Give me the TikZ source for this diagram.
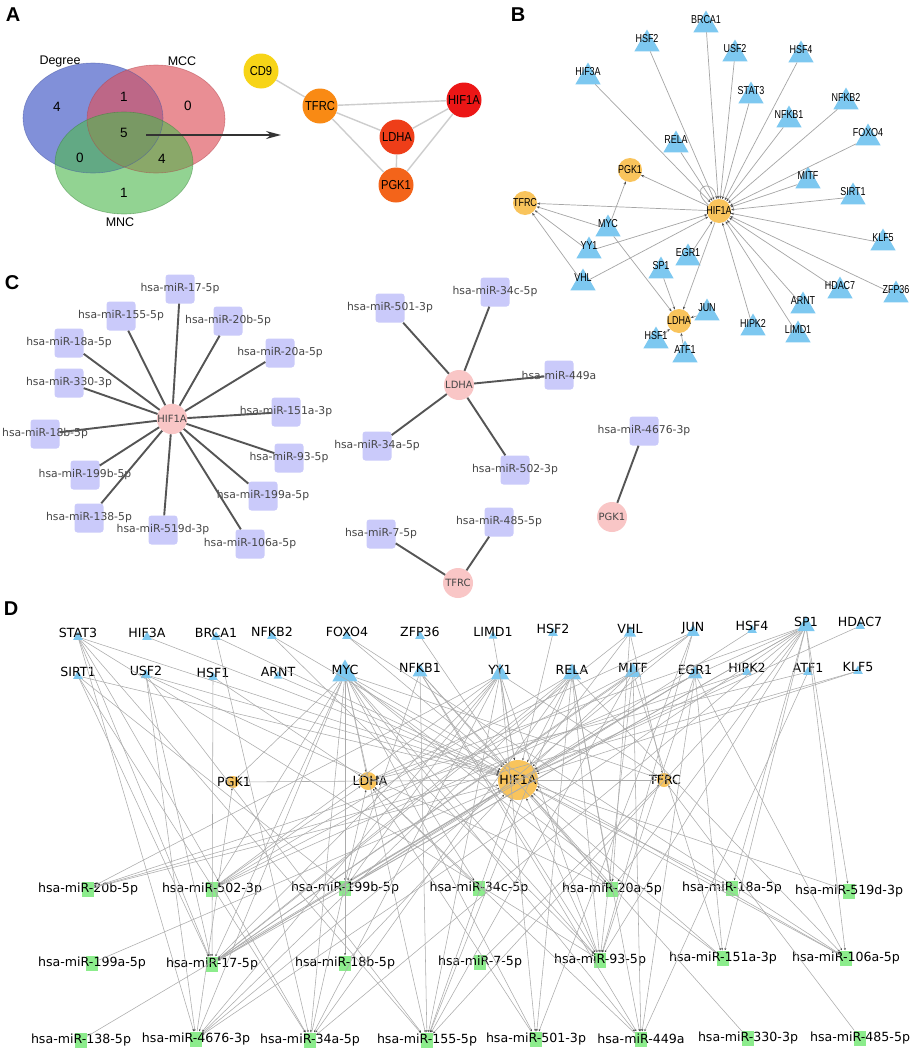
\documentclass[tikz,border=0pt]{standalone}
\usepackage{fontspec}
\setmainfont{Liberation Sans}
\newfontfamily\dv{DejaVu Sans}
\newfontfamily\cond[FakeStretch=0.78]{Liberation Sans}
\newfontfamily\acond[FakeStretch=0.86]{Liberation Sans}
\usetikzlibrary{shapes.geometric,arrows.meta}
\definecolor{vblue}{RGB}{88,108,205}
\definecolor{vred}{RGB}{222,82,92}
\definecolor{vgreen}{RGB}{80,185,80}
\definecolor{cdyel}{RGB}{247,212,23}
\definecolor{tforange}{RGB}{249,138,20}
\definecolor{ldred}{RGB}{238,62,25}
\definecolor{pgorange}{RGB}{243,100,26}
\definecolor{hifred}{RGB}{236,22,22}
\definecolor{aline}{RGB}{205,205,205}
\definecolor{bgold}{RGB}{249,196,92}
\definecolor{tfblue}{RGB}{125,200,240}
\definecolor{bline}{RGB}{165,165,165}
\definecolor{cpink}{RGB}{249,198,198}
\definecolor{clav}{RGB}{202,202,250}
\definecolor{ctext}{RGB}{70,70,70}
\definecolor{cline}{RGB}{85,85,85}
\definecolor{mgreen}{RGB}{140,236,140}
\definecolor{dline}{RGB}{172,172,172}
\begin{document}
\begin{tikzpicture}[x=1pt,y=-1pt,
  plet/.style={font=\bfseries\fontsize{20}{20}\selectfont, inner sep=0},
  vlab/.style={font=\fontsize{12.5}{13}\selectfont, inner sep=0},
  vnum/.style={font=\fontsize{13.5}{14}\selectfont, inner sep=0},
  anode/.style={circle, inner sep=0, minimum size=35pt, font=\acond\fontsize{13}{13}\selectfont},
  aedge/.style={draw=aline, line width=1.4pt},
  bgene/.style={circle, fill=bgold, inner sep=0, minimum size=24pt},
  btri/.style={regular polygon, regular polygon sides=3, fill=tfblue, inner sep=0, minimum size=29pt},
  btxt/.style={font=\cond\fontsize{11.5}{12}\selectfont, inner sep=0},
  bedge/.style={draw=bline, line width=0.7pt, -{Stealth[length=3pt,width=2.4pt,color=black!70]}},
  cgene/.style={circle, fill=cpink, inner sep=0, minimum size=30pt, font=\dv\fontsize{10}{10}\selectfont, text=ctext},
  cmir/.style={rectangle, rounded corners=3pt, fill=clav, minimum size=29pt, inner sep=0},
  ctxt/.style={font=\dv\fontsize{10.8}{11}\selectfont, text=ctext, inner sep=0},
  cedge/.style={draw=cline, line width=1.9pt},
  dtri/.style={regular polygon, regular polygon sides=3, fill=tfblue, inner sep=0, minimum size=#1},
  dtri/.default=11pt,
  dgene/.style={circle, fill=bgold, inner sep=0, minimum size=#1},
  dmir/.style={rectangle, fill=mgreen, inner sep=0, minimum width=12pt, minimum height=15pt},
  dtxt/.style={font=\dv\fontsize{12.6}{13}\selectfont, inner sep=0},
  dedge/.style={draw=dline, line width=0.55pt, -{Stealth[length=2.2pt,width=1.8pt,color=black!75]}}
]
\useasboundingbox (0,0) rectangle (920,1055);
\fill[white] (0,0) rectangle (920,1055);

% ---------------- panel letters
\node[plet] at (13,15) {A};
\node[plet] at (518,15) {B};
\node[plet] at (12,283) {C};
\node[plet] at (11,609) {D};

% ---------------- panel A : Venn
\fill[vblue,fill opacity=.75] (93,118) ellipse [x radius=70,y radius=55];
\fill[vred,fill opacity=.65] (156,119) ellipse [x radius=69,y radius=54];
\fill[vgreen,fill opacity=.62] (124,163) ellipse [x radius=69,y radius=51];
\draw[vblue!80!black,opacity=.5,line width=.6pt] (93,118) ellipse [x radius=70,y radius=55];
\draw[vred!80!black,opacity=.5,line width=.6pt] (156,119) ellipse [x radius=69,y radius=54];
\draw[vgreen!70!black,opacity=.5,line width=.6pt] (124,163) ellipse [x radius=69,y radius=51];
\node[vlab] (vDeg) at (60,61) {Degree};
\node[vlab] (vMCC) at (182,61) {MCC};
\node[vlab] (vMNC) at (120,222) {MNC};
\node[vnum] at (57,107) {4};
\node[vnum] at (124,97) {1};
\node[vnum] at (188,106) {0};
\node[vnum] (five) at (124,133) {5};
\node[vnum] at (80,158) {0};
\node[vnum] at (162,159) {4};
\node[vnum] at (124,193) {1};
\coordinate (arS) at (146,135);
\coordinate (arE) at (281,135);
\draw[black!80,line width=1.2pt,-{Stealth[length=15pt,width=8pt,inset=5pt]}] (arS) -- (arE);

\node[anode,fill=cdyel] (aCD9) at (261,71) {CD9};
\node[anode,fill=tforange] (aTFRC) at (320,106) {TFRC};
\node[anode,fill=hifred] (aHIF) at (464,100) {HIF1A};
\node[anode,fill=ldred] (aLDHA) at (397,137) {LDHA};
\node[anode,fill=pgorange] (aPGK) at (396,185) {PGK1};
\draw[aedge] (aCD9) -- (aTFRC);
\draw[aedge] (aTFRC) -- (aHIF);
\draw[aedge] (aTFRC) -- (aLDHA);
\draw[aedge] (aTFRC) -- (aPGK);
\draw[aedge] (aLDHA) -- (aHIF);
\draw[aedge] (aLDHA) -- (aPGK);
\draw[aedge] (aHIF) -- (aPGK);

% ---------------- panel B
\foreach \n/\x/\y in {BRCA1/706/20, HSF2/647/39, USF2/735/49, HSF4/801/50, HIF3A/588/72,
  STAT3/751/91, NFKB2/846/97, NFKB1/789/115, FOXO4/868/133, RELA/676/140, MITF/808/176,
  SIRT1/853/192, MYC/608/224, YY1/589/246, KLF5/883/238, EGR1/688/253, SP1/661/266,
  VHL/583/278, HDAC7/840/286, ZFP36/896/290, ARNT/803/301, JUN/707/308, HIPK2/753/323,
  LIMD1/798/330, HSF1/656/336, ATF1/685/350}{
  \node[btri] (b\n) at (\x,{\y+5}) {};
}
\node[bgene] (bHIF) at (719,211) {};
\node[bgene] (bPGK) at (630,170) {};
\node[bgene] (bTFRC) at (525,203) {};
\node[bgene] (bLDHA) at (679,321) {};
\foreach \n in {BRCA1,HSF2,USF2,HSF4,HIF3A,STAT3,NFKB2,NFKB1,FOXO4,RELA,MITF,SIRT1,
  YY1,KLF5,EGR1,VHL,HDAC7,ZFP36,ARNT,HIPK2,LIMD1}{
  \draw[bedge] (b\n) -- (bHIF);
}
\foreach \a/\b in {bHIF/bTFRC, bHIF/bPGK, bHIF/bLDHA, bMYC/bPGK, bMYC/bTFRC, bMYC/bLDHA,
  bYY1/bTFRC, bVHL/bTFRC, bSP1/bLDHA, bJUN/bLDHA, bHSF1/bLDHA, bATF1/bLDHA}{
  \draw[bedge] (\a) -- (\b);
}
\draw[bedge] (bHIF.150) .. controls (688,188) and (712,176) .. (bHIF.100);
\foreach \n/\x/\y in {BRCA1/706/20, HSF2/647/39, USF2/735/49, HSF4/801/50, HIF3A/588/72,
  STAT3/751/91, NFKB2/846/97, NFKB1/789/115, FOXO4/868/133, RELA/676/140, MITF/808/176,
  SIRT1/853/192, MYC/608/224, YY1/589/246, KLF5/883/238, EGR1/688/253, SP1/661/266,
  VHL/583/278, HDAC7/840/286, ZFP36/896/290, ARNT/803/301, JUN/707/308, HIPK2/753/323,
  LIMD1/798/330, HSF1/656/336, ATF1/685/350}{
  \node[btxt] at (\x,\y) {\n};
}
\node[btxt] at (bHIF) {HIF1A};
\node[btxt] at (bPGK) {PGK1};
\node[btxt] at (bTFRC) {TFRC};
\node[btxt] at (bLDHA) {LDHA};

% ---------------- panel C
\node[cgene] (cHIF) at (172,419) {HIF1A};
\node[cgene] (cLDHA) at (459,385) {LDHA};
\node[cgene] (cPGK) at (612,517) {PGK1};
\node[cgene] (cTFRC) at (458,583) {TFRC};
\foreach \k/\x/\y/\lab in {17/180/289/17-5p, 155/121/316/155-5p, 20b/228/321/20b-5p,
  18a/69/343/18a-5p, 20a/280/353/20a-5p, 330/69/383/330-3p, 151a/286/412/151a-3p,
  18b/45/434/18b-5p, 93/289/458/93-5p, 199b/85/475/199b-5p, 199a/263/496/199a-5p,
  138/89/518/138-5p, 519d/163/530/519d-3p, 106a/250/544/106a-5p,
  501/390/308/501-3p, 34c/495/292/34c-5p, 449a/559/375/449a, 34a/377/446/34a-5p,
  502/515/470/502-3p, 4676/644/431/4676-3p, 7/381/534/7-5p, 485/499/522/485-5p}{
  \node[cmir] (c\k) at (\x,\y) {};
  \node[ctxt] at (\x,\y) {hsa-miR-\lab};
}
\foreach \k in {17,155,20b,18a,20a,330,151a,18b,93,199b,199a,138,519d,106a}{
  \draw[cedge] (cHIF) -- (c\k);
}
\foreach \k in {501,34c,449a,34a,502}{
  \draw[cedge] (cLDHA) -- (c\k);
}
\draw[cedge] (cPGK) -- (c4676);
\draw[cedge] (cTFRC) -- (c7);
\draw[cedge] (cTFRC) -- (c485);

% ---------------- panel D
\foreach \n/\x/\y/\s in {STAT3/78/633/11, HIF3A/147/633/11, BRCA1/216/633/11, NFKB2/272/632/11,
  FOXO4/347/632/11, ZFP36/420/632/11, LIMD1/493/632/10, HSF2/553/629/11, VHL/630/629/14,
  JUN/693/628/15, HSF4/752/626/11, SP1/806/622/20, HDAC7/860/622/11,
  SIRT1/78/672/11, USF2/146/671/12, HSF1/213/673/11, ARNT/278/672/10, MYC/345/670/29,
  NFKB1/420/668/17, YY1/500/670/21, RELA/572/670/21, MITF/633/668/19, EGR1/695/670/17,
  HIPK2/747/668/11, ATF1/808/668/11, KLF5/858/667/11}{
  \node[dtri=\s pt] (d\n) at (\x,{\y+4}) {};
  \node[dtxt] at (\x,\y) {\n};
}
\node[dgene=12pt] (gPGK) at (233,782) {};
\node[dgene=18pt] (gLDHA) at (368,781) {};
\node[dgene=40pt] (gHIF) at (518,780) {};
\node[dgene=14pt] (gTFRC) at (664,780) {};
\node[dtxt] at (234,782) {PGK1};
\node[dtxt] at (370,781) {LDHA};
\node[dtxt] at (518,780) {HIF1A};
\node[dtxt] at (665,780) {TFRC};
\foreach \k/\x/\y/\lab in {20b/88/889/20b-5p, 502/212/889/502-3p, 199b/345/888/199b-5p,
  34c/479/888/34c-5p, 20a/612/889/20a-5p, 18a/732/888/18a-5p, 519d/849/891/519d-3p,
  199a/92/963/199a-5p, 17/212/964/17-5p, 18b/345/963/18b-5p, 7/480/962/7-5p,
  93/600/960/93-5p, 151a/723/958/151a-3p, 106a/846/958/106a-5p,
  138/81/1040/138-5p, 4676/196/1039/4676-3p, 34a/310/1040/34a-5p, 155/427/1040/155-5p,
  501/536/1039/501-3p, 449a/641/1039/449a, 330/748/1038/330-3p, 485/860/1038/485-5p}{
  \node[dmir] (m\k) at (\x,\y) {};
  \node[dtxt] at (\x,\y) {hsa-miR-\lab};
}
% TF -> gene
\foreach \n in {BRCA1,HSF2,USF2,HSF4,HIF3A,STAT3,NFKB2,NFKB1,FOXO4,RELA,MITF,SIRT1,
  YY1,KLF5,EGR1,VHL,HDAC7,ZFP36,ARNT,HIPK2,LIMD1}{
  \draw[dedge] (d\n) -- (gHIF);
}
\foreach \a/\b in {dMYC/gPGK, dMYC/gTFRC, dMYC/gLDHA, dYY1/gTFRC, dVHL/gTFRC,
  dSP1/gLDHA, dJUN/gLDHA, dHSF1/gLDHA, dATF1/gLDHA, gHIF/gPGK, gHIF/gTFRC}{
  \draw[dedge] (\a) -- (\b);
}
% miRNA -> gene
\foreach \k in {17,155,20b,18a,20a,330,151a,18b,93,199b,199a,138,519d,106a}{
  \draw[dedge] (m\k) -- (gHIF);
}
\foreach \k in {501,34c,449a,34a,502}{
  \draw[dedge] (m\k) -- (gLDHA);
}
\draw[dedge] (m4676) -- (gPGK);
\draw[dedge] (m7) -- (gTFRC);
\draw[dedge] (m485) -- (gTFRC);
% TF -> miRNA
\foreach \a/\b in {STAT3/17, STAT3/4676, STAT3/34a, STAT3/155, STAT3/93,
  SIRT1/17, SIRT1/34a, SIRT1/199b,
  USF2/17, USF2/4676, USF2/155, USF2/20a,
  HSF1/17, BRCA1/34a, NFKB2/93, FOXO4/106a,
  MYC/502, MYC/17, MYC/4676, MYC/199b, MYC/18b, MYC/34a, MYC/155, MYC/501, MYC/93,
  MYC/449a, MYC/20a, MYC/34c, MYC/151a, MYC/106a,
  NFKB1/155, NFKB1/199b, NFKB1/93, NFKB1/449a, NFKB1/20a,
  YY1/20b, YY1/502, YY1/17, YY1/4676, YY1/155, YY1/501, YY1/93, YY1/34a, YY1/199b,
  RELA/17, RELA/502, RELA/155, RELA/501, RELA/20a, RELA/93, RELA/449a, RELA/34a,
  RELA/4676, RELA/106a,
  VHL/20a, VHL/17,
  MITF/502, MITF/17, MITF/93, MITF/151a, MITF/449a, MITF/155,
  JUN/17, JUN/93, JUN/501, JUN/4676,
  EGR1/17, EGR1/199b, EGR1/93, EGR1/449a, EGR1/106a, EGR1/151a,
  HIPK2/20b,
  SP1/502, SP1/17, SP1/4676, SP1/199b, SP1/34a, SP1/155, SP1/93, SP1/20a, SP1/18a,
  SP1/106a, SP1/519d, SP1/151a,
  ATF1/449a, KLF5/20b}{
  \draw[dedge] (d\a) -- (m\b);
}
\end{tikzpicture}
\end{document}
